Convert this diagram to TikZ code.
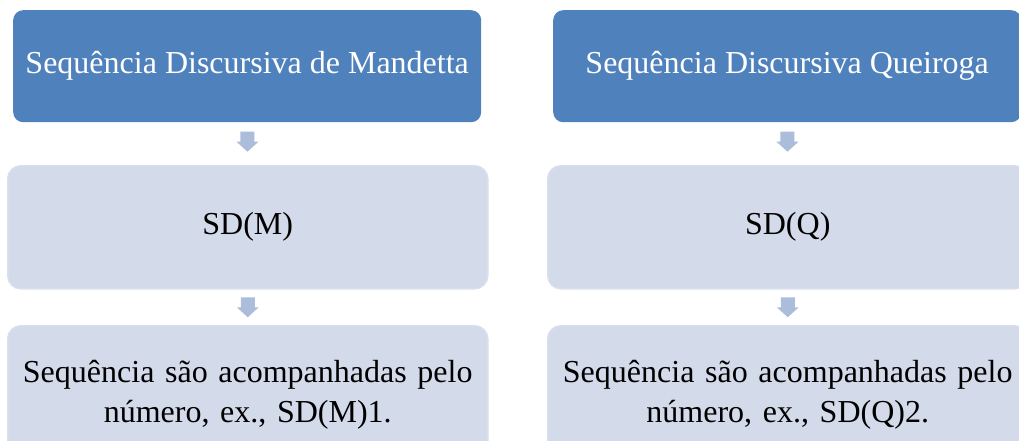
\documentclass[tikz,border=0pt]{standalone}
\usepackage{fontspec}
\setmainfont{Liberation Serif}
\usetikzlibrary{calc}
\definecolor{topblue}{HTML}{4F81BD}
\definecolor{lightbox}{HTML}{D3DAE9}
\definecolor{lightedge}{HTML}{D9DFEC}
\definecolor{arrowblue}{HTML}{ACBDDC}
\tikzset{
  headbox/.style={anchor=north west, rounded corners=10pt, fill=topblue, draw=none,
    minimum width=468pt, minimum height=112pt, inner sep=0pt, text=white,
    font=\fontsize{32}{40}\selectfont},
  subbox/.style={anchor=north west, rounded corners=13pt, fill=lightbox, draw=lightedge, line width=1.5pt,
    minimum width=480pt, minimum height=123pt, inner sep=0pt, text=black,
    text width=470pt, align=center, font=\fontsize{32}{40}\selectfont},
  blockarrow/.style={fill=arrowblue, draw=none}
}
\newcommand{\downblock}[1]{%
  \fill[blockarrow] ($(#1)+(-7,-10)$) -- ($(#1)+(7,-10)$) -- ($(#1)+(7,0)$) -- ($(#1)+(11,0)$)
    -- ($(#1)+(0,10)$) -- ($(#1)+(-11,0)$) -- ($(#1)+(-7,0)$) -- cycle;}
\begin{document}
\begin{tikzpicture}[x=1pt,y=-1pt]
\useasboundingbox (0,0) rectangle (1019,441);
\clip (0,0) rectangle (1019,441);
\fill[white] (0,0) rectangle (1019,441);
% left column
\node[headbox] (m1) at (13,10) {Sequência Discursiva de Mandetta};
\node[subbox] (m2) at (7,165) {SD(M)};
\node[subbox, minimum height=138pt] (m3) at (7,325) {Sequência são acompanhadas pelo\\número, ex., SD(M)1.};
% right column
\node[headbox] (q1) at (553,10) {Sequência Discursiva Queiroga};
\node[subbox] (q2) at (547,165) {SD(Q)};
\node[subbox, minimum height=138pt] (q3) at (547,325) {Sequência são acompanhadas pelo\\número, ex., SD(Q)2.};
% arrows
\coordinate (am1) at ($(m1.south)!0.5!(m2.north)+(0,-2)$);
\coordinate (am2) at ($(m2.south)!0.5!(m3.north)$);
\coordinate (aq1) at ($(q1.south)!0.5!(q2.north)+(0,-2)$);
\coordinate (aq2) at ($(q2.south)!0.5!(q3.north)$);
\downblock{am1}
\downblock{am2}
\downblock{aq1}
\downblock{aq2}
\end{tikzpicture}
\end{document}
